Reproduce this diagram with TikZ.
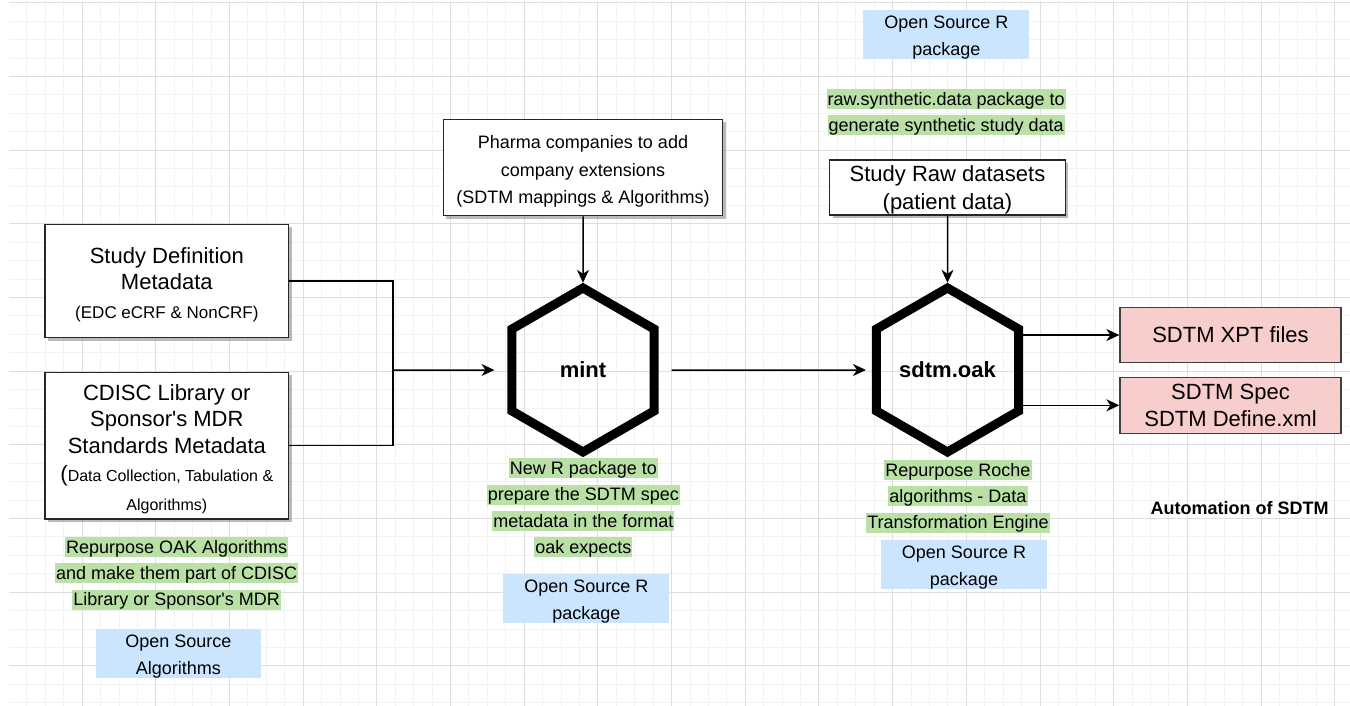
\documentclass[tikz,border=0pt]{standalone}
\usepackage{fontspec}
\setmainfont{Liberation Sans}
\usetikzlibrary{shapes.geometric,arrows.meta,shadows}

\definecolor{gridminor}{RGB}{242,242,242}
\definecolor{gridmajor}{RGB}{222,222,222}
\definecolor{notegreen}{RGB}{185,224,165}
\definecolor{osblue}{RGB}{204,229,255}
\definecolor{outred}{RGB}{248,206,204}

\newcommand{\fsz}[2]{\fontsize{#1}{#2}\selectfont}
\newcommand{\padtop}[1]{\rule{0pt}{\dimexpr0.74em+#1\relax}}
\setlength{\fboxsep}{0pt}
\newcommand{\greenline}[1]{\colorbox{notegreen}{\rule[-0.22em]{0pt}{1.12em}\kern1pt#1\kern1pt}}

\tikzstyle{box}=[rectangle,draw=black!85,line width=1.5pt,fill=white,align=center,inner sep=0pt,
  drop shadow={shadow xshift=3pt,shadow yshift=-3pt,fill=black!45,opacity=.6}]
\tikzstyle{outbox}=[rectangle,draw=black!75,line width=1.3pt,fill=outred,align=center,inner sep=0pt,
  font=\fsz{22}{27}]
\tikzstyle{osbox}=[rectangle,fill=osblue,align=center,inner sep=0pt,font=\fsz{18}{27}]
\tikzstyle{note}=[align=center,inner sep=0pt,font=\fsz{18}{26.4}]
\tikzstyle{engine}=[regular polygon,regular polygon sides=6,shape border rotate=30,draw,
  line width=9pt,minimum size=164pt,inner sep=0pt,font=\bfseries\fsz{22}{26}]
\tikzstyle{link}=[line width=1.5pt]
\tikzstyle{flow}=[link,-{Stealth[length=13pt,width=12pt,inset=4pt]}]

\begin{document}
\begin{tikzpicture}[x=1pt,y=-1pt]
  \useasboundingbox (0,0) rectangle (1350,706);

  % background grid
  \begin{scope}
    \clip (9,2) rectangle (1350,706);
    \foreach \k in {0,...,73} {
      \pgfmathsetmacro{\gx}{round(8+18.42*\k)+0.5}
      \draw[gridminor,line width=1pt] (\gx,0) -- (\gx,706);
    }
    \foreach \k in {0,...,38} {
      \pgfmathsetmacro{\gy}{round(3.3+18.42*\k)-0.5}
      \draw[gridminor,line width=1pt] (0,\gy) -- (1350,\gy);
    }
    \foreach \k in {0,4,...,72} {
      \pgfmathsetmacro{\gx}{round(8+18.42*\k)+0.5}
      \draw[gridmajor,line width=1.5pt] (\gx,0) -- (\gx,706);
    }
    \foreach \k in {0,4,...,36} {
      \pgfmathsetmacro{\gy}{round(3.3+18.42*\k)-0.5}
      \draw[gridmajor,line width=1.5pt] (0,\gy) -- (1350,\gy);
    }
  \end{scope}

  % inputs
  \node[box,minimum width=243.7pt,minimum height=113.4pt,font=\fsz{22}{26}] (studydef) at (166.85,281)
    {\padtop{7pt}Study Definition\\Metadata\\[3pt]{\fsz{17}{20}(EDC eCRF \& NonCRF)}};
  \node[box,minimum width=243.7pt,minimum height=146.7pt,font=\fsz{22}{26.5}] (cdisc) at (166.85,445.7)
    {\padtop{6pt}CDISC Library or\\Sponsor\textquotesingle s MDR\\Standards Metadata\\[2pt]
     {\fsz{22}{26}(}{\fsz{16}{20}Data Collection, Tabulation \&}\\[2pt]{\fsz{16}{20}Algorithms)}};
  \node[box,minimum width=279.3pt,minimum height=96.4pt,font=\fsz{18}{27.5}] (pharma) at (583,167.5)
    {\padtop{8pt}Pharma companies to add\\company extensions\\(SDTM mappings \& Algorithms)};
  \node[box,minimum width=235.7pt,minimum height=55pt,font=\fsz{22}{28.4}] (rawdata) at (947.5,187.5)
    {\padtop{4pt}Study Raw datasets\\(patient data)};

  % engines
  \node[engine] (mint) at (583,370) {mint};
  \node[engine] (oak) at (947.5,370) {sdtm.oak};

  % outputs
  \node[outbox,minimum width=221pt,minimum height=55.4pt] (xpt) at (1230.5,335) {SDTM XPT files};
  \node[outbox,minimum width=221pt,minimum height=56pt] (spec) at (1230.5,405.3)
    {SDTM Spec\\SDTM Define.xml};

  % notes
  \node[osbox,minimum width=166pt,minimum height=47.6pt] (topos) at (946.3,34.5)
    {\padtop{5pt}Open Source R\\package};
  \node[note] (topnote) at (946.2,112.2)
    {\greenline{raw.synthetic.data package to}\\\greenline{generate synthetic study data}};
  \node[note] (mintnote) at (583.3,507.8)
    {\greenline{New R package to}\\\greenline{prepare the SDTM spec}\\
     \greenline{metadata in the format}\\\greenline{oak expects}};
  \node[osbox,minimum width=166pt,minimum height=46.7pt] (mintos) at (586.3,598.3)
    {\padtop{5pt}Open Source R\\package};
  \node[note] (leftnote) at (176.7,573.3)
    {\greenline{Repurpose OAK Algorithms}\\\greenline{and make them part of CDISC}\\
     \greenline{Library or Sponsor\textquotesingle s MDR}};
  \node[osbox,minimum width=165.3pt,minimum height=46.7pt] (leftos) at (178.35,653.35)
    {\padtop{5pt}Open Source\\Algorithms};
  \node[note] (oaknote) at (958,496.3)
    {\greenline{Repurpose Roche}\\\greenline{algorithms - Data}\\\greenline{Transformation Engine}};
  \node[osbox,minimum width=166.6pt,minimum height=47.3pt] (oakos) at (964,564.7)
    {\padtop{5pt}Open Source R\\package};
  \node[font=\bfseries\fsz{18}{22}] (title) at (1239.7,508.3) {Automation of SDTM};

  % connectors
  \coordinate (join) at (393,370);
  \draw[link] (studydef.east) -| (join);
  \draw[link] (cdisc.east) -| (join);
  \draw[flow,shorten >=13pt] (join) -- (mint.west);
  \draw[flow] (pharma.south) -- (mint.north);
  \draw[flow,shorten <=13pt,shorten >=6pt] (mint.east) -- (oak.west);
  \draw[flow] (rawdata.south) -- (oak.north);
  \draw[flow] (xpt.west -| oak.east) -- (xpt.west);
  \draw[flow] (spec.west -| oak.east) -- (spec.west);
\end{tikzpicture}
\end{document}
